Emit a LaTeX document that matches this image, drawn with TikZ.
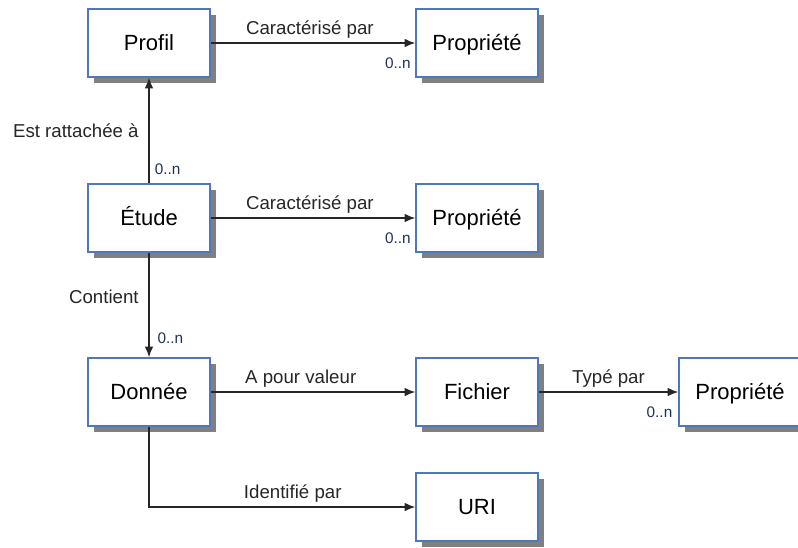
\documentclass[tikz,border=0pt]{standalone}
\usepackage{fontspec}
\setmainfont{Liberation Sans}
\usetikzlibrary{arrows.meta, shadows, positioning}
\definecolor{boxblue}{RGB}{79,119,190}
\definecolor{cardblue}{RGB}{30,48,88}
\tikzset{
    entity/.style={draw=boxblue, line width=1.2pt, fill=white,
        minimum width=91.5pt, minimum height=51pt,
        font=\fontsize{16.5}{18}\selectfont,
        text height=13.8pt, text depth=2pt,
        drop shadow={shadow xshift=4.5pt, shadow yshift=-4.5pt, fill=black!50, opacity=1}},
    assoc/.style={-{Latex[length=8pt,width=6.5pt]}, line width=0.9pt, black!85},
    rel/.style={font=\fontsize{14}{16}\selectfont, text=black!85},
    card/.style={font=\fontsize{11.5}{13}\selectfont, text=cardblue, inner sep=1pt}
}
\begin{document}
\begin{tikzpicture}[x=0.75pt, y=-0.75pt]
    \useasboundingbox (0,0) rectangle (798,547);
    % entites
    \node[entity] (profil)  at (149,43)  {Profil};
    \node[entity] (propA)   at (477,43)  {Propriété};
    \node[entity] (etude)   at (149,218) {Étude};
    \node[entity] (propB)   at (477,218) {Propriété};
    \node[entity] (donnee)  at (149,392) {Donnée};
    \node[entity] (fichier) at (477,392) {Fichier};
    \node[entity] (propC)   at (740,392) {Propriété};
    \node[entity] (uri)     at (477,507) {URI};
    % associations
    \draw[assoc] (profil) -- node[rel, above, pos=0.485]{Caractérisé par}
        node[card, pos=1, anchor=north east, shift={(-2pt,-10pt)}]{0..n} (propA);
    \draw[assoc] (etude) -- node[rel, left, xshift=-4pt]{Est rattachée à}
        node[card, pos=0, anchor=south west, shift={(3pt,5pt)}]{0..n} (profil);
    \draw[assoc] (etude) -- node[rel, above, pos=0.485]{Caractérisé par}
        node[card, pos=1, anchor=north east, shift={(-2pt,-10pt)}]{0..n} (propB);
    \draw[assoc] (etude) -- node[rel, left, pos=0.42, xshift=-4pt]{Contient}
        node[card, pos=1, anchor=south west, shift={(5pt,9pt)}]{0..n} (donnee);
    \draw[assoc] (donnee) -- node[rel, above, pos=0.44]{A pour valeur} (fichier);
    \draw[assoc] (fichier) -- node[rel, above]{Typé par}
        node[card, pos=1, anchor=north east, shift={(-3pt,-10pt)}]{0..n} (propC);
    \draw[assoc] (donnee) |- node[rel, above, pos=0.77]{Identifié par} (uri);
\end{tikzpicture}
\end{document}
